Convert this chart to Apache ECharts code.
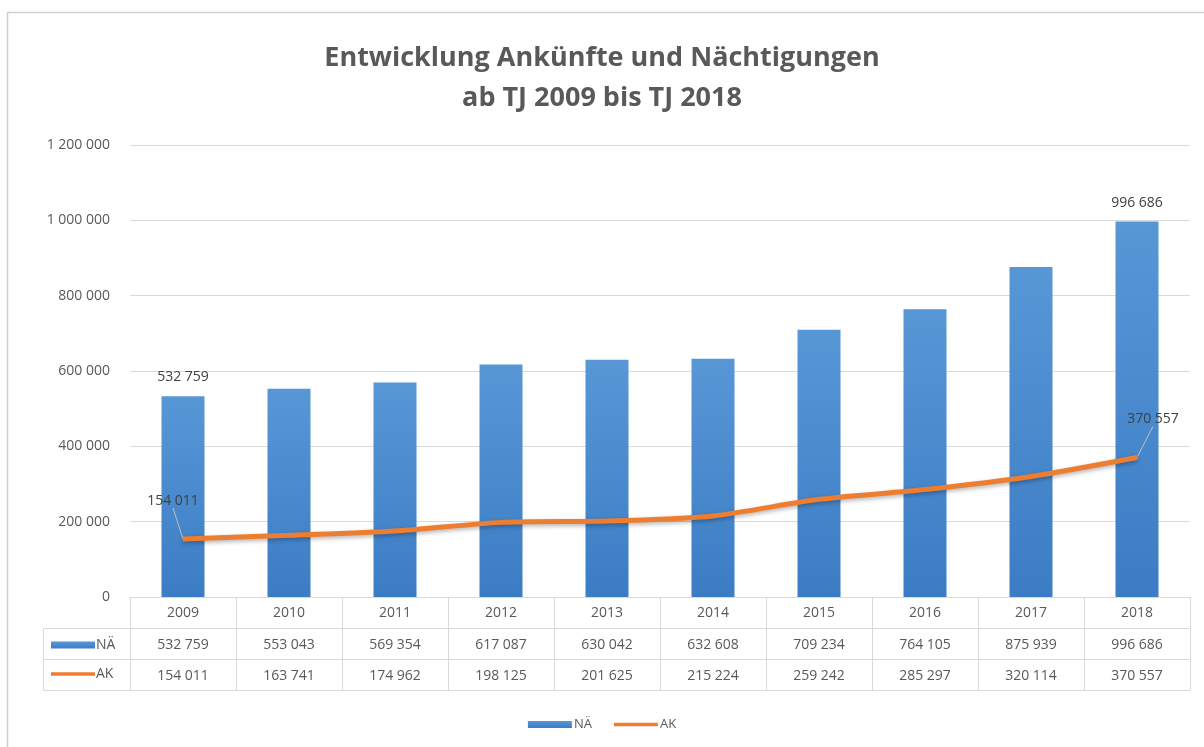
<!DOCTYPE html>
<html>
<head>
<meta charset="utf-8">
<script src="https://cdn.jsdelivr.net/npm/echarts@6/dist/echarts.min.js"></script>
<style>
html,body{margin:0;padding:0;background:#fff;}
#chart{width:1204px;height:747px;}
</style>
</head>
<body>
<div id="chart"></div>
<script>
var years = ['2009','2010','2011','2012','2013','2014','2015','2016','2017','2018'];
var naValues = [532759, 553043, 569354, 617087, 630042, 632608, 709234, 764105, 875939, 996686];
var akValues = [154011, 163741, 174962, 198125, 201625, 215224, 259242, 285297, 320114, 370557];
var labelledIndices = [0, 9];
var titleLines = ['Entwicklung Ankünfte und Nächtigungen', 'ab TJ 2009 bis TJ 2018'];
var seriesNames = ['NÄ', 'AK'];

function fmt(v) {
  return String(v).replace(/\B(?=(\d{3})+(?!\d))/g, ' ');
}

var FONT = '"Open Sans", sans-serif';
var TXT = '#595959';
var GRIDC = '#d9d9d9';
var ORANGE = '#ed7d31';
var LINE_ICON = 'path://M0,0 L48,0 L48,4 L0,4 Z';

var chart = echarts.init(document.getElementById('chart'), null, {renderer: 'canvas'});

var barData = naValues.map(function (v, i) {
  return {value: v, label: {show: labelledIndices.indexOf(i) >= 0}};
});
var lineData = akValues.map(function (v, i) {
  return {value: v, label: {show: labelledIndices.indexOf(i) >= 0}};
});

var option = {
  backgroundColor: '#ffffff',
  animation: false,
  textStyle: {fontFamily: FONT},
  title: {
    text: titleLines.join('\n'),
    left: 'center',
    top: 33,
    textStyle: {fontFamily: FONT, fontSize: 27, fontWeight: 'bold', color: TXT, lineHeight: 40}
  },
  legend: [{
    data: [{name: seriesNames[0], icon: 'rect'}, {name: seriesNames[1], icon: LINE_ICON}],
    bottom: 11,
    left: 'center',
    itemWidth: 44,
    itemHeight: 7,
    itemGap: 22,
    textStyle: {fontFamily: FONT, fontSize: 13, color: TXT, padding: [0, 0, 0, -3]},
    selectedMode: false
  }, {
    data: [{name: seriesNames[0], icon: 'rect'}, {name: seriesNames[1], icon: LINE_ICON}],
    orient: 'vertical',
    left: 51,
    top: 638,
    padding: 0,
    itemWidth: 44,
    itemHeight: 7,
    itemGap: 15,
    textStyle: {fontFamily: FONT, fontSize: 14, color: TXT, padding: [0, 0, 0, -4]},
    selectedMode: false
  }],
  grid: {left: 130, right: 14, top: 145, bottom: 150, containLabel: false},
  xAxis: [{
    type: 'category',
    data: years,
    position: 'bottom',
    axisLine: {show: true, lineStyle: {color: GRIDC, width: 1}},
    axisTick: {show: true, length: 93, lineStyle: {color: GRIDC}},
    axisLabel: {fontFamily: FONT, fontSize: 14, color: TXT, margin: 9}
  }, {
    type: 'category',
    data: years,
    position: 'bottom',
    offset: 31,
    axisLine: {show: true, lineStyle: {color: GRIDC, width: 1}},
    axisTick: {show: false},
    axisLabel: {fontFamily: FONT, fontSize: 14, color: TXT, margin: 10,
      formatter: function (v, i) { return fmt(naValues[i]); }}
  }, {
    type: 'category',
    data: years,
    position: 'bottom',
    offset: 62,
    axisLine: {show: true, lineStyle: {color: GRIDC, width: 1}},
    axisTick: {show: false},
    axisLabel: {fontFamily: FONT, fontSize: 14, color: TXT, margin: 10,
      formatter: function (v, i) { return fmt(akValues[i]); }}
  }, {
    type: 'category',
    data: years,
    position: 'bottom',
    offset: 93,
    axisLine: {show: true, lineStyle: {color: GRIDC, width: 1}},
    axisTick: {show: false},
    axisLabel: {show: false}
  }],
  yAxis: {
    type: 'value',
    min: 0,
    max: 1200000,
    interval: 200000,
    axisLine: {show: false},
    axisTick: {show: false},
    splitLine: {lineStyle: {color: GRIDC, width: 1}},
    axisLabel: {fontFamily: FONT, fontSize: 14, color: TXT, margin: 20,
      formatter: function (v) { return fmt(v); }}
  },
  series: [{
    name: seriesNames[0],
    type: 'bar',
    xAxisIndex: 0,
    barWidth: 43,
    data: barData,
    itemStyle: {
      color: new echarts.graphic.LinearGradient(0, 0, 0, 1, [
        {offset: 0, color: '#5897d6'},
        {offset: 1, color: '#3b7cc4'}
      ])
    },
    label: {
      position: 'top',
      distance: 12,
      fontFamily: FONT,
      fontSize: 14,
      color: '#404040',
      formatter: function (p) { return fmt(p.value); }
    },
    z: 2
  }, {
    name: seriesNames[1],
    type: 'line',
    xAxisIndex: 0,
    data: lineData,
    symbol: 'circle',
    symbolSize: 2,
    showSymbol: true,
    smooth: 0.25,
    lineStyle: {
      color: ORANGE, width: 5,
      shadowColor: 'rgba(0,0,0,0.3)', shadowBlur: 4, shadowOffsetY: 2
    },
    itemStyle: {color: ORANGE},
    label: {
      position: 'top',
      fontFamily: FONT,
      fontSize: 14,
      color: '#404040',
      formatter: function (p) { return fmt(p.value); }
    },
    labelLine: {show: true, lineStyle: {color: '#bfbfbf', width: 1}},
    labelLayout: function (p) {
      return p.dataIndex === 0 ? {dx: -10, dy: -25} : {dx: 16, dy: -25};
    },
    z: 3
  }],
  graphic: [{
    type: 'rect',
    shape: {x: 7.5, y: 12.5, width: 1300, height: 900},
    style: {fill: 'none', stroke: '#d0d0d0', lineWidth: 1.5},
    silent: true, z: -1
  }, {
    type: 'polyline',
    shape: {points: [[130, 628.5], [43.5, 628.5], [43.5, 690.5], [130, 690.5]]},
    style: {fill: 'none', stroke: GRIDC, lineWidth: 1},
    silent: true
  }, {
    type: 'line',
    shape: {x1: 43.5, y1: 659.5, x2: 130, y2: 659.5},
    style: {stroke: GRIDC, lineWidth: 1},
    silent: true
  }]
};
chart.setOption(option);
</script>
</body>
</html>
